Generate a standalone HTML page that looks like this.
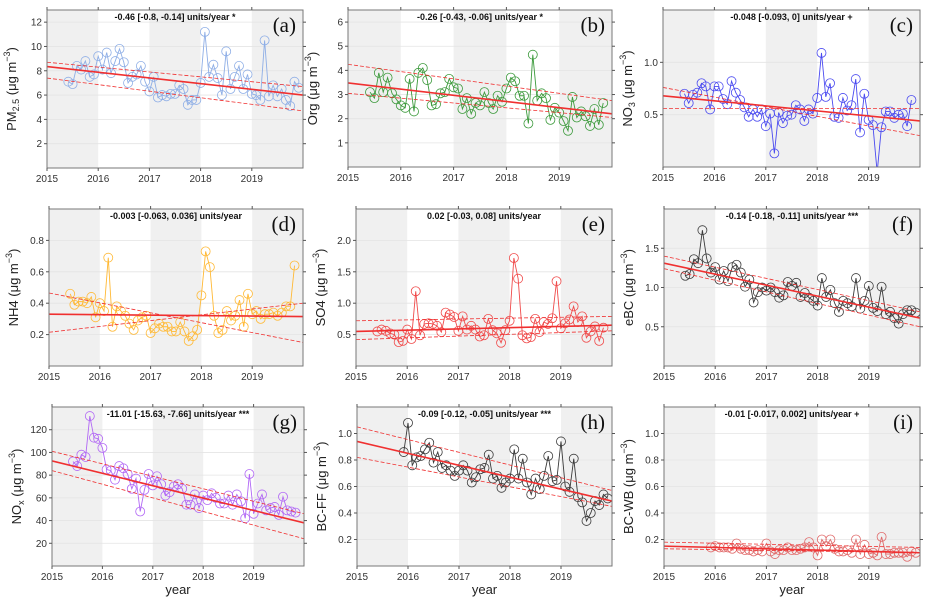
<!DOCTYPE html>
<html><head><meta charset="utf-8"><style>
html,body{margin:0;padding:0;background:#fff;}
svg{display:block;font-family:"Liberation Sans",Arial,sans-serif;}
</style></head><body>
<svg id="chart" width="928" height="604" viewBox="0 0 928 604" xmlns="http://www.w3.org/2000/svg"></svg>
<script>
// ---- data (monthly means) ----
const pm25Values=[7.1,6.9,8.4,8.1,8.8,7.5,7.7,9.2,8.1,9.5,7.8,8.8,9.8,8.7,7.0,7.5,7.7,8.4,7.1,6.3,7.5,5.8,6.0,5.9,6.1,6.1,6.8,6.5,5.2,5.6,5.6,7.0,11.2,7.5,8.5,7.4,6.0,9.6,6.5,7.5,8.4,6.5,7.7,6.1,6.0,5.6,10.5,5.9,6.8,5.9,6.5,5.6,5.1,7.1,6.6];
const orgValues=[3.1,2.85,3.9,3.1,3.7,3.05,2.8,2.55,2.45,3.65,2.3,3.9,4.1,3.6,2.55,2.6,3.05,3.1,3.65,3.3,3.25,2.4,2.85,2.2,2.65,2.55,3.1,2.65,2.4,2.95,2.7,3.25,3.7,3.55,2.95,2.95,1.8,4.65,2.75,3.05,2.85,1.95,2.45,2.25,1.9,1.5,2.9,2.05,2.3,2.1,1.7,2.4,1.75,2.65];
const no3Values=[0.70,0.61,0.69,0.71,0.80,0.77,0.55,0.77,0.77,0.65,0.60,0.82,0.71,0.64,0.57,0.48,0.55,0.48,0.55,0.39,0.51,0.13,0.52,0.42,0.49,0.50,0.59,0.55,0.44,0.55,0.51,0.66,1.09,0.67,0.80,0.48,0.47,0.66,0.54,0.59,0.84,0.33,0.70,0.45,0.40,-0.05,0.38,0.53,0.53,0.47,0.50,0.51,0.39,0.64];
const nh4Values=[0.46,0.39,0.41,0.41,0.40,0.44,0.31,0.40,0.35,0.69,0.25,0.38,0.35,0.32,0.27,0.23,0.29,0.31,0.32,0.21,0.24,0.27,0.25,0.25,0.22,0.22,0.28,0.22,0.16,0.19,0.23,0.45,0.73,0.63,0.32,0.21,0.23,0.35,0.29,0.32,0.42,0.25,0.46,0.33,0.35,0.30,0.33,0.33,0.34,0.32,0.34,0.38,0.38,0.64];
const so4Values=[0.55,0.58,0.56,0.52,0.50,0.38,0.40,0.58,0.43,1.19,0.49,0.67,0.68,0.67,0.64,0.54,0.85,0.82,0.78,0.56,0.79,0.58,0.64,0.58,0.47,0.49,0.75,0.57,0.52,0.37,0.57,0.72,1.72,1.39,0.49,0.44,0.46,0.75,0.54,0.70,0.67,0.76,1.35,0.60,0.68,0.74,0.95,0.70,0.79,0.45,0.55,0.63,0.40,0.61];
const ebcValues=[1.15,1.17,1.36,1.31,1.73,1.37,1.19,1.26,1.10,1.21,1.08,1.26,1.29,1.19,1.01,1.10,0.81,0.94,1.00,0.96,1.00,0.94,0.87,0.90,1.07,1.02,1.06,0.88,0.93,0.87,0.83,0.77,1.12,0.88,0.97,0.80,0.69,0.83,0.80,0.76,1.12,0.73,0.83,1.02,0.74,0.70,1.01,0.66,0.69,0.61,0.54,0.66,0.71,0.71,0.68];
const noxValues=[92,88,98,96,132,113,112,104,85,84,76,88,86,81,68,77,48,67,81,71,79,72,62,65,70,72,68,54,54,63,51,62,58,64,60,55,55,62,54,63,57,42,81,46,55,63,49,51,52,45,61,49,48,47];
const bcffValues=[0.86,1.08,0.76,0.82,0.83,0.88,0.93,0.78,0.86,0.74,0.76,0.72,0.68,0.72,0.76,0.72,0.63,0.67,0.73,0.74,0.84,0.66,0.68,0.59,0.63,0.66,0.88,0.66,0.81,0.63,0.54,0.66,0.58,0.68,0.83,0.64,0.65,0.94,0.60,0.56,0.81,0.52,0.48,0.34,0.40,0.49,0.46,0.54,0.51];
const bcwbValues=[0.14,0.15,0.14,0.14,0.14,0.13,0.17,0.13,0.12,0.12,0.11,0.12,0.11,0.17,0.11,0.09,0.12,0.12,0.14,0.12,0.12,0.13,0.14,0.18,0.14,0.08,0.20,0.15,0.20,0.13,0.11,0.11,0.12,0.10,0.20,0.09,0.16,0.09,0.10,0.08,0.22,0.09,0.09,0.10,0.10,0.10,0.07,0.11,0.10];
// trend lines: [value at 2015, value at 2020]
const pm25Trend=[8.35,6.0], pm25Upper=[8.7,6.7], pm25Lower=[7.4,4.7];
const orgTrend=[3.48,2.2], orgUpper=[4.25,2.75], orgLower=[3.05,2.05];
const no3Trend=[0.68,0.44], no3Upper=[0.76,0.30], no3Lower=[0.56,0.56];
const nh4Trend=[0.33,0.315], nh4Upper=[0.465,0.15], nh4Lower=[0.215,0.40];
const so4Trend=[0.55,0.65], so4Upper=[0.72,0.79], so4Lower=[0.42,0.56];
const ebcTrend=[1.31,0.61], ebcUpper=[1.40,0.69], ebcLower=[1.24,0.50];
const noxTrend=[92.5,38], noxUpper=[101,46], noxLower=[84,24];
const bcffTrend=[0.94,0.49], bcffUpper=[1.05,0.57], bcffLower=[0.82,0.45];
const bcwbTrend=[0.15,0.10], bcwbUpper=[0.18,0.14], bcwbLower=[0.13,0.10];
const yearTicks=[2015,2016,2017,2018,2019];
const pm25Ticks=[2,4,6,8,10,12], orgTicks=[1,2,3,4,5,6], no3Ticks=[0.5,1.0], nh4Ticks=[0.2,0.4,0.6,0.8];
const so4Ticks=[0.5,1.0,1.5,2.0], ebcTicks=[0.5,1.0,1.5], noxTicks=[20,40,60,80,100,120], bcTicks=[0.2,0.4,0.6,0.8,1.0];

const NS="http://www.w3.org/2000/svg";
const svg=document.getElementById('chart');
function mk(tag,attrs,parent){const e=document.createElementNS(NS,tag);for(const k in attrs)e.setAttribute(k,attrs[k]);(parent||svg).appendChild(e);return e;}

const panels=[
 {id:'a',x0:47,x1:303,y0:10,y1:168,ymax:13,ticks:pm25Ticks,dec:0,vals:pm25Values,start:2015+5/12,color:'#8eaee6',tr:pm25Trend,up:pm25Upper,lo:pm25Lower,ann:'-0.46 [-0.8, -0.14] units/year *',lab:['PM',['2.5','sub'],' (μg m',['−3','sup'],')']},
 {id:'b',x0:348,x1:612,y0:10,y1:167,ymax:6.5,ticks:orgTicks,dec:0,vals:orgValues,start:2015+5/12,color:'#3c9a3c',tr:orgTrend,up:orgUpper,lo:orgLower,ann:'-0.26 [-0.43, -0.06] units/year *',lab:['Org (μg m',['−3','sup'],')']},
 {id:'c',x0:663,x1:920,y0:10,y1:167,ymax:1.5,ticks:no3Ticks,dec:1,vals:no3Values,start:2015+5/12,color:'#4a4af0',tr:no3Trend,up:no3Upper,lo:no3Lower,ann:'-0.048 [-0.093, 0] units/year +',lab:['NO',['3','sub'],' (μg m',['−3','sup'],')']},
 {id:'d',x0:49,x1:303,y0:209,y1:366,ymax:1.0,ticks:nh4Ticks,dec:1,vals:nh4Values,start:2015+5/12,color:'#ffb935',tr:nh4Trend,up:nh4Upper,lo:nh4Lower,ann:'-0.003 [-0.063, 0.036] units/year',lab:['NH4 (μg m',['−3','sup'],')']},
 {id:'e',x0:356,x1:612,y0:209,y1:366,ymax:2.5,ticks:so4Ticks,dec:1,vals:so4Values,start:2015+5/12,color:'#f04a4a',tr:so4Trend,up:so4Upper,lo:so4Lower,ann:'0.02 [-0.03, 0.08] units/year',lab:['SO4 (μg m',['−3','sup'],')']},
 {id:'f',x0:664,x1:920,y0:209,y1:366,ymax:2.0,ticks:ebcTicks,dec:1,vals:ebcValues,start:2015+5/12,color:'#3a3a3a',tr:ebcTrend,up:ebcUpper,lo:ebcLower,ann:'-0.14 [-0.18, -0.11] units/year ***',lab:['eBC (μg m',['−3','sup'],')']},
 {id:'g',x0:52,x1:304,y0:407,y1:566,ymax:140,ticks:noxTicks,dec:0,vals:noxValues,start:2015+5/12,color:'#b167f5',tr:noxTrend,up:noxUpper,lo:noxLower,ann:'-11.01 [-15.63, -7.66] units/year ***',lab:['NO',['x','sub'],' (μg m',['−3','sup'],')']},
 {id:'h',x0:357,x1:612,y0:407,y1:566,ymax:1.2,ticks:bcTicks,dec:1,vals:bcffValues,start:2015+11/12,color:'#3a3a3a',tr:bcffTrend,up:bcffUpper,lo:bcffLower,ann:'-0.09 [-0.12, -0.05] units/year ***',lab:['BC-FF (μg m',['−3','sup'],')']},
 {id:'i',x0:664,x1:920,y0:407,y1:566,ymax:1.2,ticks:bcTicks,dec:1,vals:bcwbValues,start:2015+11/12,color:'#e06a6a',tr:bcwbTrend,up:bcwbUpper,lo:bcwbLower,ann:'-0.01 [-0.017, 0.002] units/year +',lab:['BC-WB (μg m',['−3','sup'],')']}
];

panels.forEach(p=>{
  const g=mk('g',{});
  
  
  const xs=t=>p.x0+(t-2015)*(p.x1-p.x0)/5;
  const ys=v=>p.y1-v*(p.y1-p.y0)/p.ymax;
  const clip='clip'+p.id;
  const cp=mk('clipPath',{id:clip},g);
  mk('rect',{x:p.x0,y:p.y0,width:p.x1-p.x0,height:p.y1-p.y0},cp);
  // bands
  [2015,2017,2019].forEach(yr=>{
    const b=mk('rect',{x:xs(yr),y:p.y0,width:Math.min(xs(yr+1),p.x1)-xs(yr),height:p.y1-p.y0,fill:'#f0f0f0'},g);
    
    
  });
  // grid
  p.ticks.forEach(t=>{
    const l=mk('line',{x1:p.x0,x2:p.x1,y1:ys(t),y2:ys(t),stroke:'#e4e4e4','stroke-width':0.8},g);
    
    
  });
  // series
  const pts=p.vals.map((v,i)=>[xs(p.start+i/12),ys(v)]);
  const sg=mk('g',{'clip-path':'url(#'+clip+')'},g);
  const line=mk('polyline',{points:pts.map(q=>q.join(',')).join(' '),fill:'none',stroke:p.color,'stroke-width':0.9},sg);
  
  
  pts.forEach(q=>{
    const c=mk('circle',{cx:q[0],cy:q[1],r:4.5,fill:'none',stroke:p.color,'stroke-width':0.8},sg);
    
    
  });
  // trend lines
  const tl=(arr,dash,w,name)=>{
    const l=mk('line',{x1:xs(2015),y1:ys(arr[0]),x2:xs(2020),y2:ys(arr[1]),stroke:'#f03030','stroke-width':w},sg);
    if(dash)l.setAttribute('stroke-dasharray','4,2');
    
    
  };
  tl(p.up,true,0.8,'upper-ci-line');
  tl(p.lo,true,0.8,'lower-ci-line');
  tl(p.tr,false,1.6,'trend-line');
  // frame
  const fr=mk('rect',{x:p.x0,y:p.y0,width:p.x1-p.x0,height:p.y1-p.y0,fill:'none',stroke:'#777','stroke-width':1},g);
  
  
  // y ticks
  p.ticks.forEach(t=>{
    const y=ys(t);
    mk('line',{x1:p.x0-3,x2:p.x0,y1:y,y2:y,stroke:'#555'},g);
    mk('line',{x1:p.x1,x2:p.x1+3,y1:y,y2:y,stroke:'#555'},g);
    const tx=mk('text',{x:p.x0-5,y:y+3.5,'text-anchor':'end','font-size':10,fill:'#333'},g);
    tx.textContent=t.toFixed(p.dec);
    
    
  });
  // x ticks
  yearTicks.forEach(yr=>{
    const x=xs(yr);
    mk('line',{x1:x,x2:x,y1:p.y1,y2:p.y1+3,stroke:'#555'},g);
    mk('line',{x1:x,x2:x,y1:p.y0-3,y2:p.y0,stroke:'#555'},g);
    const tx=mk('text',{x:x,y:p.y1+14,'text-anchor':'middle','font-size':10,fill:'#333'},g);
    tx.textContent=yr;
    
    
  });
  // annotation
  const an=mk('text',{x:(p.x0+p.x1)/2,y:p.y0+10,'text-anchor':'middle','font-size':9,'font-weight':'bold',fill:'#111'},g);
  an.textContent=p.ann;
  
  
  // panel letter
  const le=mk('text',{x:p.x1-7,y:p.y0+22,'text-anchor':'end','font-size':21,fill:'#111','font-family':'"Liberation Serif",serif'},g);
  le.textContent='('+p.id+')';
  
  
  // y title
  const cy=(p.y0+p.y1)/2, cx=p.x0-31;
  const yt=mk('text',{x:cx,y:cy,'text-anchor':'middle','font-size':13,fill:'#222',transform:'rotate(-90 '+cx+' '+cy+')'},g);
  
  
  p.lab.forEach(part=>{
    const ts=mk('tspan',{},yt);
    if(typeof part==='string'){ts.textContent=part;}
    else{ts.textContent=part[0];ts.setAttribute('font-size',9);ts.setAttribute('baseline-shift',part[1]==='sub'?'-3':'6');}
  });
  if(p.id==='g'||p.id==='h'||p.id==='i'){
    const xt=mk('text',{x:(p.x0+p.x1)/2,y:594,'text-anchor':'middle','font-size':13,fill:'#222'},g);
    xt.textContent='year';
    
    
  }
});
</script>
</body></html>
